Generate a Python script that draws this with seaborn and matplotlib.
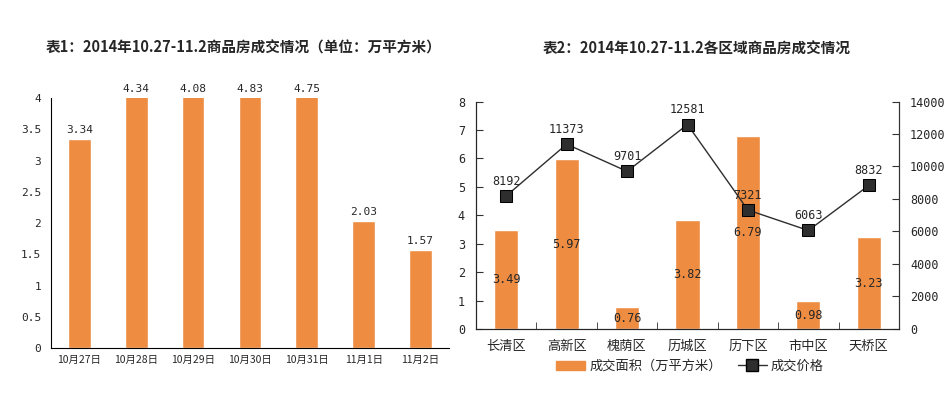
import matplotlib
matplotlib.use("Agg")
import matplotlib.pyplot as plt
import seaborn as sns
from matplotlib.patches import Patch
from matplotlib.lines import Line2D

# chart 1: daily volume (10k m2)
days = ["10月27日", "10月28日", "10月29日", "10月30日", "10月31日", "11月1日", "11月2日"]
day_area = [3.34, 4.34, 4.08, 4.83, 4.75, 2.03, 1.57]

# chart 2: by district
districts = ["长清区", "高新区", "槐荫区", "历城区", "历下区", "市中区", "天桥区"]
dist_area = [3.49, 5.97, 0.76, 3.82, 6.79, 0.98, 3.23]
dist_price = [8192, 11373, 9701, 12581, 7321, 6063, 8832]

title1 = "表1：2014年10.27-11.2商品房成交情况（单位：万平方米）"
title2 = "表2：2014年10.27-11.2各区域商品房成交情况"
legend_labels = ["成交面积（万平方米）", "成交价格"]

ORANGE = "#EE8C41"
DARK = "#2e2e2e"

sns.set_style("white")
plt.rcParams["font.family"] = ["Noto Sans CJK SC", "DejaVu Sans"]
NUM = ["DejaVu Sans Mono", "Noto Sans CJK SC"]

fig = plt.figure(figsize=(9.49, 3.93), dpi=100)

# ---- chart 1 ----
ax1 = fig.add_axes([0.0537, 0.1145, 0.4194, 0.6361])
sns.barplot(x=days, y=day_area, color=ORANGE, width=0.4, saturation=1, ax=ax1)
ax1.set_ylim(0, 4)
ax1.set_xlim(-0.5, len(days) - 0.5)
ax1.set_yticks([0, 0.5, 1, 1.5, 2, 2.5, 3, 3.5, 4])
ax1.set_yticklabels(["0", "0.5", "1", "1.5", "2", "2.5", "3", "3.5", "4"],
                    family=NUM, fontsize=8)
ax1.tick_params(axis="both", length=0)
ax1.tick_params(axis="y", pad=7)
ax1.tick_params(axis="x", pad=5, labelsize=7.5)
sns.despine(ax=ax1)
ax1.spines["left"].set_color("black")
ax1.spines["bottom"].set_color("black")
ax1.set_xlabel("")
for i, v in enumerate(day_area):
    ax1.annotate(f"{v:.2f}", (i, min(v, 4)), xytext=(0, 3), textcoords="offset points",
                 ha="center", va="bottom", fontsize=8, family=NUM, annotation_clip=False)

fig.text(0.257, 0.878, title1, ha="center", va="center", fontsize=10.5, fontweight="bold")

# ---- chart 2 ----
ax2 = fig.add_axes([0.5016, 0.163, 0.4457, 0.5787])
sns.barplot(x=districts, y=dist_area, color=ORANGE, width=0.4, saturation=1, ax=ax2)
ax2.set_ylim(0, 8)
ax2.set_xlim(-0.5, len(districts) - 0.5)
ax2.set_yticks(range(0, 9))
ax2.set_yticklabels([str(t) for t in range(0, 9)], family=NUM, fontsize=8.5)
ax2.tick_params(axis="y", direction="in", length=5, color="#333333", pad=8, left=True)
ax2.set_xticks([i + 0.5 for i in range(len(districts) - 1)], minor=True)
ax2.tick_params(axis="x", which="minor", direction="in", length=5, color="#333333", bottom=True)
ax2.tick_params(axis="x", which="major", length=0, pad=8, labelsize=9.5)
ax2.set_xlabel("")
for s in ["left", "bottom", "right"]:
    ax2.spines[s].set_color("#333333")
ax2.spines["top"].set_visible(False)
for i, v in enumerate(dist_area):
    ax2.text(i, v / 2, f"{v:.2f}", ha="center", va="center", fontsize=8.5, family=NUM)

axr = ax2.twinx()
sns.pointplot(x=districts, y=dist_price, color=DARK, markers="s", linestyles="-",
              ax=axr, markersize=9, linewidth=1, markeredgecolor="black")
axr.set_ylim(0, 14000)
axr.set_xlim(-0.5, len(districts) - 0.5)
axr.set_yticks(range(0, 14001, 2000))
axr.set_yticklabels([str(t) for t in range(0, 14001, 2000)], family=NUM, fontsize=8.5)
axr.tick_params(axis="y", direction="in", length=5, color="#333333", pad=8, right=True)
axr.set_ylabel("")
axr.set_xlabel("")
axr.spines["top"].set_visible(False)
axr.spines["right"].set_color("#333333")
for i, v in enumerate(dist_price):
    axr.annotate(str(v), (i, v), xytext=(0, 6), textcoords="offset points",
                 ha="center", va="bottom", fontsize=8.5, family=NUM)

handles = [Patch(facecolor=ORANGE, edgecolor=ORANGE),
           Line2D([], [], color=DARK, marker="s", markersize=8, markerfacecolor=DARK,
                  markeredgecolor="black", linewidth=1)]
fig.legend(handles, legend_labels, loc="center", bbox_to_anchor=(0.727, 0.068), ncol=2,
           frameon=False, fontsize=9.5, handlelength=2.2, handletextpad=0.3, columnspacing=1.2)

fig.text(0.7345, 0.875, title2, ha="center", va="center", fontsize=10.5, fontweight="bold")

fig.savefig("out.png", dpi=100)
